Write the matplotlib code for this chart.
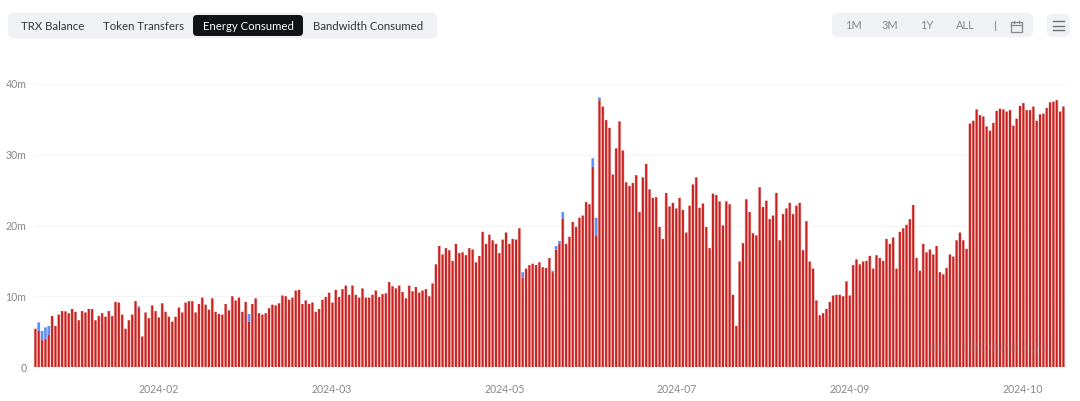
# -*- coding: utf-8 -*-
import matplotlib
matplotlib.use('Agg')
import matplotlib.pyplot as plt
from matplotlib.patches import FancyBboxPatch, Rectangle

plt.rcParams['font.family'] = ['Lato', 'DejaVu Sans']

# values in millions
red_values = [
    5.4, 5.1, 3.8, 4.0, 4.6, 7.2, 5.8, 7.4, 7.9, 7.85, 7.6, 8.2, 7.8, 6.6, 7.9, 7.7, 8.2, 8.2, 6.6, 7.2,
    7.6, 7.1, 7.9, 7.2, 9.2, 9.1, 7.4, 5.4, 6.6, 7.4, 9.3, 8.4, 4.3, 7.7, 6.9, 8.7, 7.9, 7.0, 9.0, 7.8,
    7.1, 6.4, 7.1, 8.4, 7.7, 9.1, 9.3, 9.3, 7.7, 8.9, 9.8, 8.8, 8.1, 9.7, 7.8, 7.5, 7.4, 8.9, 8.0, 10.0,
    9.4, 9.8, 7.8, 9.2, 6.4, 8.9, 9.7, 7.6, 7.4, 7.6, 8.3,
    8.8, 8.7, 9.0, 10.1, 10.0, 9.5, 9.8, 10.8, 10.9, 8.9, 9.4, 8.9, 9.1, 7.8, 8.2, 9.5, 9.9, 10.5, 9.1, 10.9,
    9.9, 11.0, 11.5, 10.2, 11.5, 10.2, 9.8, 11.1, 9.8, 9.8, 10.2, 10.8, 9.9, 10.3, 10.4, 12.0, 11.4, 11.1, 11.5, 10.6,
    9.7, 11.5, 10.7, 11.3, 10.5, 10.8, 11.0, 10.0, 11.8,
    14.5, 17.1, 15.9, 16.8, 16.5, 15.0, 17.4, 16.1, 16.2, 15.8, 16.8, 16.6, 14.8, 15.7, 19.1, 17.4, 18.7, 17.9, 17.4, 16.1,
    18.0, 19.0, 17.4, 18.1, 18.0, 19.6,
    12.6, 13.9, 14.4, 14.6, 14.4, 14.8, 14.1, 14.0, 15.4, 13.4, 16.6, 17.4, 21.0, 17.4, 18.4, 20.5, 19.8, 21.1, 21.4, 23.3,
    23.0, 28.3, 18.6, 37.7, 36.8, 34.9, 33.8, 27.2, 30.9, 34.7, 30.6, 26.1, 25.6, 26.0, 27.1, 21.9, 26.8, 28.7, 25.1, 23.9,
    24.0, 19.8, 18.1, 24.6, 22.7, 23.2, 22.4, 23.9, 22.2, 19.0, 22.8, 25.8, 26.8, 22.5, 23.1, 19.8, 16.8, 24.5, 24.3, 23.4,
    20.0, 23.4, 23.0, 10.2, 5.8, 14.9, 17.5, 23.7, 21.9, 18.9, 18.6, 25.4, 22.6, 23.5, 20.9, 21.4, 24.6, 17.9, 21.6, 22.4,
    23.2, 21.6, 22.8, 23.2, 16.5, 20.6, 14.9, 13.9, 9.4, 7.3, 7.6, 8.2, 9.2, 10.1, 10.2, 10.2, 10.0, 12.1, 10.1, 14.4,
    15.2, 14.5, 14.9, 15.0, 15.7, 13.9, 15.8, 15.4, 15.0, 18.1, 17.4, 18.3, 13.9, 19.1, 19.6, 20.1, 20.9, 22.9, 15.4, 13.6,
    17.4, 16.2, 16.6, 15.9, 17.1, 13.4, 13.1, 14.0, 15.9, 15.6, 17.9, 19.0, 17.9, 16.7, 34.4, 34.8, 36.4, 35.6, 35.4, 34.0,
    33.4, 34.5, 36.2, 36.5, 36.4, 36.1, 36.3, 34.1, 35.1, 36.9, 37.3, 36.3, 36.3, 36.8, 34.8, 35.7, 35.8, 36.6, 37.4, 37.5,
    37.7, 36.1, 36.8,
]
# blue part stacked on top of the red, index -> size
blue_parts = {1: 1.2, 2: 1.3, 3: 1.6, 4: 1.2, 31: 0.2, 64: 1.1, 146: 0.8, 155: 0.2, 156: 0.5, 157: 0.4, 158: 0.9,
              167: 1.2, 168: 2.5, 169: 0.4, len(red_values) - 1: 0.05}
blue_values = [blue_parts.get(i, 0) for i in range(len(red_values))]

tick_pos = [36.9, 88.7, 140.5, 192.2, 244.0, 295.8]
tick_labels = ['2024-02', '2024-03', '2024-05', '2024-07', '2024-09', '2024-10']
y_ticks = [0, 10, 20, 30, 40]
y_labels = ['0', '10m', '20m', '30m', '40m']

tabs = ['TRX Balance', 'Token Transfers', 'Energy Consumed', 'Bandwidth Consumed']
tab_x = [52.5, 143.5, 248, 368.5]
ranges = ['1M', '3M', '1Y', 'ALL']
range_x = [853, 890, 927, 965]

W, H = 1080, 401
fig = plt.figure(figsize=(W / 100, H / 100), dpi=100, facecolor='white')

# bars
x0, x1 = 34, 1066
ax = fig.add_axes([x0 / W, 1 - 367 / H, (x1 - x0) / W, (367 - 84) / H])
n = len(red_values)
step = (1063.4 - 35.4) / (n - 1)
x = [i for i in range(n)]
ax.set_xlim(-(35.4 - x0) / step, (n - 1) + (x1 - 1063.4) / step)
ax.set_ylim(0, 40)
# pale wide bar under the solid one, the reference is soft and the gaps look pink
soft = ax.bar(x, red_values, width=0.98, color='#efc4c2', linewidth=0, zorder=3)
solid = ax.bar(x, red_values, width=0.6, color='#c8211f', linewidth=0, zorder=3)
blue = ax.bar(x, blue_values, bottom=red_values, width=0.8, color='#5b8ff9', linewidth=0, zorder=3)
for b in list(soft) + list(solid) + list(blue):
    b.set_snap(False)
for s in ax.spines.values():
    s.set_visible(False)
ax.set_yticks(y_ticks)
ax.set_yticklabels(y_labels, fontsize=7.6, color='#85878c')
ax.set_xticks(tick_pos)
ax.set_xticklabels(tick_labels, fontsize=7.6, color='#85878c')
ax.tick_params(axis='both', length=0)
ax.tick_params(axis='x', pad=12.5)
ax.tick_params(axis='y', pad=5.5)
ax.grid(axis='y', color='#f5f5f6', linewidth=0.8, zorder=0)
ax.set_axisbelow(True)

# overlay in pixel coordinates for the buttons and the watermark
ui = fig.add_axes([0, 0, 1, 1], zorder=5)
ui.set_xlim(0, W)
ui.set_ylim(H, 0)
ui.axis('off')


def pill(x, y, w, h, color, r=6):
    ui.add_patch(FancyBboxPatch((x + r, y + r), w - 2 * r, h - 2 * r, boxstyle='round,pad=%d,rounding_size=%d' % (r, r),
                                facecolor=color, edgecolor='none'))


pill(8, 12.5, 429, 26, '#f0f1f5')
pill(193, 15, 110, 21, '#111213', r=4)
for name, tx in zip(tabs, tab_x):
    c = 'white' if name == 'Energy Consumed' else '#33353a'
    ui.text(tx, 26, name, ha='center', va='center', fontsize=8.2, color=c)

pill(832, 13, 201, 24, '#f0f1f5')
for name, tx in zip(ranges, range_x):
    ui.text(tx, 25.5, name, ha='center', va='center', fontsize=7.9, color='#85878c')
ui.plot([995, 995], [21, 30], color='#9a9ca2', linewidth=0.9)

# calendar icon
ui.add_patch(Rectangle((1011, 22), 11, 9.5, facecolor='none', edgecolor='#85878c', linewidth=0.9))
ui.plot([1011, 1022], [25, 25], color='#85878c', linewidth=0.9)
ui.plot([1014, 1014], [20.5, 23], color='#85878c', linewidth=0.9)
ui.plot([1019, 1019], [20.5, 23], color='#85878c', linewidth=0.9)

# menu icon
pill(1047, 14, 23, 23, '#f0f1f5')
for ly in [21, 25.5, 30]:
    ui.plot([1053, 1064], [ly, ly], color='#6d6f75', linewidth=1.0)

# watermark
ui.text(1004, 349, 'TRONSCAN', ha='center', va='center', fontsize=11.5, fontweight='bold', color='#8a8a8a', alpha=0.2)
for dy, wid in zip([-5, -2, 1, 4], [14, 18, 16, 10]):
    ui.plot([936 - wid / 2 + 3, 936 + wid / 2 + 3], [349 + dy, 349 + dy - 1], color='#8a8a8a', alpha=0.18, linewidth=1.6)

fig.savefig('out.png', dpi=100)
